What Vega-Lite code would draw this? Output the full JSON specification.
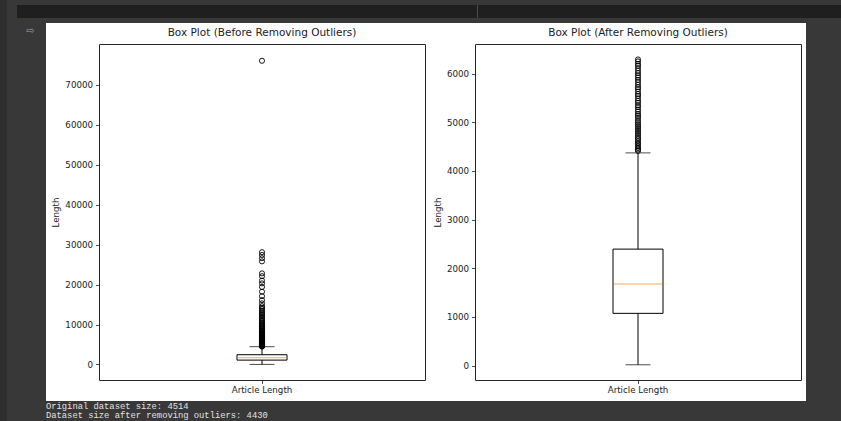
{
  "$schema": "https://vega.github.io/schema/vega-lite/v6.json",
  "background": "#ffffff",
  "padding": 0,
  "data": {"values": [{"cell": "blank"}]},
  "datasets": {
    "before_summary": [{"label": "Article Length", "lower": 15, "q1": 1090, "median": 1700, "q3": 2440, "upper": 4450}],
    "after_summary": [{"label": "Article Length", "lower": 15, "q1": 1072, "median": 1676, "q3": 2392, "upper": 4370}],
    "before_outliers": [
      {"label": "Article Length", "value": 76000}, {"label": "Article Length", "value": 28100}, {"label": "Article Length", "value": 27400},
      {"label": "Article Length", "value": 26600}, {"label": "Article Length", "value": 25800}, {"label": "Article Length", "value": 22800},
      {"label": "Article Length", "value": 22100}, {"label": "Article Length", "value": 21000}, {"label": "Article Length", "value": 20300},
      {"label": "Article Length", "value": 19400}, {"label": "Article Length", "value": 18200}, {"label": "Article Length", "value": 17100},
      {"label": "Article Length", "value": 16100}, {"label": "Article Length", "value": 15300}, {"label": "Article Length", "value": 14600},
      {"label": "Article Length", "value": 14200}, {"label": "Article Length", "value": 13900}, {"label": "Article Length", "value": 13500},
      {"label": "Article Length", "value": 13100}, {"label": "Article Length", "value": 12800}, {"label": "Article Length", "value": 12400},
      {"label": "Article Length", "value": 12100}, {"label": "Article Length", "value": 11700}, {"label": "Article Length", "value": 11400},
      {"label": "Article Length", "value": 11100}, {"label": "Article Length", "value": 10800}, {"label": "Article Length", "value": 10500},
      {"label": "Article Length", "value": 10300}, {"label": "Article Length", "value": 10000}, {"label": "Article Length", "value": 9750},
      {"label": "Article Length", "value": 9500}, {"label": "Article Length", "value": 9300}, {"label": "Article Length", "value": 9050},
      {"label": "Article Length", "value": 8850}, {"label": "Article Length", "value": 8600}, {"label": "Article Length", "value": 8400},
      {"label": "Article Length", "value": 8200}, {"label": "Article Length", "value": 8000}, {"label": "Article Length", "value": 7850},
      {"label": "Article Length", "value": 7650}, {"label": "Article Length", "value": 7450}, {"label": "Article Length", "value": 7300},
      {"label": "Article Length", "value": 7100}, {"label": "Article Length", "value": 6950}, {"label": "Article Length", "value": 6800},
      {"label": "Article Length", "value": 6650}, {"label": "Article Length", "value": 6500}, {"label": "Article Length", "value": 6380},
      {"label": "Article Length", "value": 6250}, {"label": "Article Length", "value": 6120}, {"label": "Article Length", "value": 6000},
      {"label": "Article Length", "value": 5880}, {"label": "Article Length", "value": 5760}, {"label": "Article Length", "value": 5650},
      {"label": "Article Length", "value": 5540}, {"label": "Article Length", "value": 5430}, {"label": "Article Length", "value": 5330},
      {"label": "Article Length", "value": 5230}, {"label": "Article Length", "value": 5140}, {"label": "Article Length", "value": 5050},
      {"label": "Article Length", "value": 4960}, {"label": "Article Length", "value": 4880}, {"label": "Article Length", "value": 4800},
      {"label": "Article Length", "value": 4730}, {"label": "Article Length", "value": 4660}, {"label": "Article Length", "value": 4600},
      {"label": "Article Length", "value": 4540}, {"label": "Article Length", "value": 4490}
    ],
    "after_outliers": [
      {"label": "Article Length", "value": 6290}, {"label": "Article Length", "value": 6250}, {"label": "Article Length", "value": 6200},
      {"label": "Article Length", "value": 6160}, {"label": "Article Length", "value": 6110}, {"label": "Article Length", "value": 6060},
      {"label": "Article Length", "value": 6010}, {"label": "Article Length", "value": 5960}, {"label": "Article Length", "value": 5920},
      {"label": "Article Length", "value": 5870}, {"label": "Article Length", "value": 5820}, {"label": "Article Length", "value": 5770},
      {"label": "Article Length", "value": 5720}, {"label": "Article Length", "value": 5680}, {"label": "Article Length", "value": 5630},
      {"label": "Article Length", "value": 5580}, {"label": "Article Length", "value": 5540}, {"label": "Article Length", "value": 5490},
      {"label": "Article Length", "value": 5440}, {"label": "Article Length", "value": 5400}, {"label": "Article Length", "value": 5350},
      {"label": "Article Length", "value": 5310}, {"label": "Article Length", "value": 5260}, {"label": "Article Length", "value": 5220},
      {"label": "Article Length", "value": 5170}, {"label": "Article Length", "value": 5130}, {"label": "Article Length", "value": 5090},
      {"label": "Article Length", "value": 5040}, {"label": "Article Length", "value": 5000}, {"label": "Article Length", "value": 4960},
      {"label": "Article Length", "value": 4920}, {"label": "Article Length", "value": 4880}, {"label": "Article Length", "value": 4840},
      {"label": "Article Length", "value": 4800}, {"label": "Article Length", "value": 4760}, {"label": "Article Length", "value": 4720},
      {"label": "Article Length", "value": 4680}, {"label": "Article Length", "value": 4650}, {"label": "Article Length", "value": 4610},
      {"label": "Article Length", "value": 4570}, {"label": "Article Length", "value": 4540}, {"label": "Article Length", "value": 4500},
      {"label": "Article Length", "value": 4470}, {"label": "Article Length", "value": 4440}, {"label": "Article Length", "value": 4410}
    ]
  },
  "config": {
    "font": "DejaVu Sans",
    "view": {"stroke": null},
    "concat": {"spacing": 0},
    "axis": {
      "labelFont": "DejaVu Sans", "labelFontSize": 8.7, "labelColor": "#222222",
      "tickColor": "#222222", "tickSize": 3.5, "tickWidth": 0.8,
      "grid": false, "domain": false,
      "titleFont": "DejaVu Sans", "titleFontSize": 8.7, "titleFontWeight": "normal", "titleColor": "#222222",
      "labelPadding": 3, "titlePadding": 4
    },
    "axisX": {"labelPadding": 2},
    "title": {"font": "DejaVu Sans", "fontSize": 10.5, "fontWeight": "normal", "color": "#222222", "offset": 6}
  },
  "spacing": 0,
  "hconcat": [
    {"width": 7, "height": 421, "view": {"fill": "#2e2e2e"}, "mark": {"type": "text", "text": "", "fontSize": 0}, "encoding": {}},
    {
      "spacing": 0,
      "vconcat": [
        {"width": 834, "height": 5, "view": {"fill": "#383838"}, "mark": {"type": "text", "text": "", "fontSize": 0}, "encoding": {}},
        {
          "spacing": 0,
          "hconcat": [
            {"width": 10, "height": 13, "view": {"fill": "#383838"}, "mark": {"type": "text", "text": "", "fontSize": 0}, "encoding": {}},
            {"width": 460, "height": 13, "view": {"fill": "#1f1f1f"}, "mark": {"type": "text", "text": "", "fontSize": 0}, "encoding": {}},
            {"width": 1, "height": 13, "view": {"fill": "#4a4a4a"}, "mark": {"type": "text", "text": "", "fontSize": 0}, "encoding": {}},
            {"width": 363, "height": 13, "view": {"fill": "#1f1f1f"}, "mark": {"type": "text", "text": "", "fontSize": 0}, "encoding": {}}
          ]
        },
        {"width": 834, "height": 5, "view": {"fill": "#383838"}, "mark": {"type": "text", "text": "", "fontSize": 0}, "encoding": {}},
        {
          "spacing": 0,
          "hconcat": [
            {
              "spacing": 0,
              "vconcat": [
                {"width": 39, "height": 16, "view": {"fill": "#383838"}, "mark": {"type": "text", "text": "⇨", "fontSize": 10, "color": "#a0a0a0", "dx": 4, "baseline": "middle", "align": "center"}, "encoding": {}},
                {"width": 39, "height": 362, "view": {"fill": "#383838"}, "mark": {"type": "text", "text": "", "fontSize": 0}, "encoding": {}}
              ]
            },
            {
              "spacing": 0,
              "columns": 5,
              "bounds": "flush",
              "align": "each",
              "concat": [
                {"width": 53, "height": 21, "mark": {"type": "text", "text": "", "fontSize": 0}, "encoding": {}},
                {"width": 326, "height": 21, "mark": {"type": "text", "text": "", "fontSize": 0}, "encoding": {}},
                {"width": 50, "height": 21, "mark": {"type": "text", "text": "", "fontSize": 0}, "encoding": {}},
                {"width": 326, "height": 21, "mark": {"type": "text", "text": "", "fontSize": 0}, "encoding": {}},
                {"width": 5, "height": 21, "mark": {"type": "text", "text": "", "fontSize": 0}, "encoding": {}},
                {"width": 53, "height": 336, "mark": {"type": "text", "text": "", "fontSize": 0}, "encoding": {}},
                {
                  "width": 326, "height": 336,
                  "title": "Box Plot (Before Removing Outliers)",
                  "view": {"stroke": "#262626", "strokeWidth": 1},
                  "encoding": {
                    "x": {"field": "label", "type": "nominal", "scale": {"domain": ["Article Length"], "paddingInner": 0, "paddingOuter": 0}, "axis": {"title": null, "labelAngle": 0}}
                  },
                  "layer": [
                    {
                      "data": {"name": "before_summary"},
                      "mark": {"type": "rule", "color": "#000000", "strokeWidth": 1},
                      "encoding": {
                        "y": {"field": "lower", "type": "quantitative", "title": "Length", "scale": {"domain": [-3885, 80200], "nice": false, "zero": false}, "axis": {"values": [0, 10000, 20000, 30000, 40000, 50000, 60000, 70000], "format": "d"}},
                        "y2": {"field": "q1"}
                      }
                    },
                    {
                      "data": {"name": "before_summary"},
                      "mark": {"type": "rule", "color": "#000000", "strokeWidth": 1},
                      "encoding": {
                        "y": {"field": "q3", "type": "quantitative", "title": "Length", "scale": {"domain": [-3885, 80200], "nice": false, "zero": false}, "axis": {"values": [0, 10000, 20000, 30000, 40000, 50000, 60000, 70000], "format": "d"}},
                        "y2": {"field": "upper"}
                      }
                    },
                    {
                      "data": {"name": "before_summary"},
                      "mark": {"type": "bar", "size": 50, "fill": "#ffffff", "stroke": "#000000", "strokeWidth": 1},
                      "encoding": {
                        "y": {"field": "q1", "type": "quantitative", "title": "Length", "scale": {"domain": [-3885, 80200], "nice": false, "zero": false}, "axis": {"values": [0, 10000, 20000, 30000, 40000, 50000, 60000, 70000], "format": "d"}},
                        "y2": {"field": "q3"}
                      }
                    },
                    {
                      "data": {"name": "before_summary"},
                      "mark": {"type": "tick", "size": 25, "thickness": 1, "color": "#000000"},
                      "encoding": {
                        "y": {"field": "lower", "type": "quantitative", "title": "Length", "scale": {"domain": [-3885, 80200], "nice": false, "zero": false}, "axis": {"values": [0, 10000, 20000, 30000, 40000, 50000, 60000, 70000], "format": "d"}}
                      }
                    },
                    {
                      "data": {"name": "before_summary"},
                      "mark": {"type": "tick", "size": 25, "thickness": 1, "color": "#000000"},
                      "encoding": {
                        "y": {"field": "upper", "type": "quantitative", "title": "Length", "scale": {"domain": [-3885, 80200], "nice": false, "zero": false}, "axis": {"values": [0, 10000, 20000, 30000, 40000, 50000, 60000, 70000], "format": "d"}}
                      }
                    },
                    {
                      "data": {"name": "before_summary"},
                      "mark": {"type": "tick", "size": 50, "thickness": 1, "color": "#ff7f0e"},
                      "encoding": {
                        "y": {"field": "median", "type": "quantitative", "title": "Length", "scale": {"domain": [-3885, 80200], "nice": false, "zero": false}, "axis": {"values": [0, 10000, 20000, 30000, 40000, 50000, 60000, 70000], "format": "d"}}
                      }
                    },
                    {
                      "data": {"name": "before_outliers"},
                      "mark": {"type": "point", "shape": "circle", "filled": false, "size": 26, "stroke": "#000000", "strokeWidth": 0.9, "opacity": 1},
                      "encoding": {
                        "y": {"field": "value", "type": "quantitative", "title": "Length", "scale": {"domain": [-3885, 80200], "nice": false, "zero": false}, "axis": {"values": [0, 10000, 20000, 30000, 40000, 50000, 60000, 70000], "format": "d"}}
                      }
                    }
                  ]
                },
                {"width": 50, "height": 336, "mark": {"type": "text", "text": "", "fontSize": 0}, "encoding": {}},
                {
                  "width": 326, "height": 336,
                  "title": "Box Plot (After Removing Outliers)",
                  "view": {"stroke": "#262626", "strokeWidth": 1},
                  "encoding": {
                    "x": {"field": "label", "type": "nominal", "scale": {"domain": ["Article Length"], "paddingInner": 0, "paddingOuter": 0}, "axis": {"title": null, "labelAngle": 0}}
                  },
                  "layer": [
                    {
                      "data": {"name": "after_summary"},
                      "mark": {"type": "rule", "color": "#000000", "strokeWidth": 1},
                      "encoding": {
                        "y": {"field": "lower", "type": "quantitative", "title": "Length", "scale": {"domain": [-298, 6608], "nice": false, "zero": false}, "axis": {"values": [0, 1000, 2000, 3000, 4000, 5000, 6000], "format": "d"}},
                        "y2": {"field": "q1"}
                      }
                    },
                    {
                      "data": {"name": "after_summary"},
                      "mark": {"type": "rule", "color": "#000000", "strokeWidth": 1},
                      "encoding": {
                        "y": {"field": "q3", "type": "quantitative", "title": "Length", "scale": {"domain": [-298, 6608], "nice": false, "zero": false}, "axis": {"values": [0, 1000, 2000, 3000, 4000, 5000, 6000], "format": "d"}},
                        "y2": {"field": "upper"}
                      }
                    },
                    {
                      "data": {"name": "after_summary"},
                      "mark": {"type": "bar", "size": 50, "fill": "#ffffff", "stroke": "#000000", "strokeWidth": 1},
                      "encoding": {
                        "y": {"field": "q1", "type": "quantitative", "title": "Length", "scale": {"domain": [-298, 6608], "nice": false, "zero": false}, "axis": {"values": [0, 1000, 2000, 3000, 4000, 5000, 6000], "format": "d"}},
                        "y2": {"field": "q3"}
                      }
                    },
                    {
                      "data": {"name": "after_summary"},
                      "mark": {"type": "tick", "size": 25, "thickness": 1, "color": "#000000"},
                      "encoding": {
                        "y": {"field": "lower", "type": "quantitative", "title": "Length", "scale": {"domain": [-298, 6608], "nice": false, "zero": false}, "axis": {"values": [0, 1000, 2000, 3000, 4000, 5000, 6000], "format": "d"}}
                      }
                    },
                    {
                      "data": {"name": "after_summary"},
                      "mark": {"type": "tick", "size": 25, "thickness": 1, "color": "#000000"},
                      "encoding": {
                        "y": {"field": "upper", "type": "quantitative", "title": "Length", "scale": {"domain": [-298, 6608], "nice": false, "zero": false}, "axis": {"values": [0, 1000, 2000, 3000, 4000, 5000, 6000], "format": "d"}}
                      }
                    },
                    {
                      "data": {"name": "after_summary"},
                      "mark": {"type": "tick", "size": 50, "thickness": 1, "color": "#ff7f0e"},
                      "encoding": {
                        "y": {"field": "median", "type": "quantitative", "title": "Length", "scale": {"domain": [-298, 6608], "nice": false, "zero": false}, "axis": {"values": [0, 1000, 2000, 3000, 4000, 5000, 6000], "format": "d"}}
                      }
                    },
                    {
                      "data": {"name": "after_outliers"},
                      "mark": {"type": "point", "shape": "circle", "filled": false, "size": 26, "stroke": "#000000", "strokeWidth": 0.9, "opacity": 1},
                      "encoding": {
                        "y": {"field": "value", "type": "quantitative", "title": "Length", "scale": {"domain": [-298, 6608], "nice": false, "zero": false}, "axis": {"values": [0, 1000, 2000, 3000, 4000, 5000, 6000], "format": "d"}}
                      }
                    }
                  ]
                },
                {"width": 5, "height": 336, "mark": {"type": "text", "text": "", "fontSize": 0}, "encoding": {}},
                {"width": 53, "height": 21, "mark": {"type": "text", "text": "", "fontSize": 0}, "encoding": {}},
                {"width": 326, "height": 21, "mark": {"type": "text", "text": "", "fontSize": 0}, "encoding": {}},
                {"width": 50, "height": 21, "mark": {"type": "text", "text": "", "fontSize": 0}, "encoding": {}},
                {"width": 326, "height": 21, "mark": {"type": "text", "text": "", "fontSize": 0}, "encoding": {}},
                {"width": 5, "height": 21, "mark": {"type": "text", "text": "", "fontSize": 0}, "encoding": {}}
              ]
            },
            {"width": 35, "height": 378, "view": {"fill": "#383838"}, "mark": {"type": "text", "text": "", "fontSize": 0}, "encoding": {}}
          ]
        },
        {
          "width": 834, "height": 20,
          "view": {"fill": "#383838"},
          "data": {"values": [{"message": "Original dataset size: 4514\nDataset size after removing outliers: 4430"}]},
          "mark": {"type": "text", "font": "Liberation Mono", "fontSize": 8.8, "color": "#e2e2e2", "align": "left", "baseline": "top", "lineBreak": "\n", "lineHeight": 9.5},
          "encoding": {
            "text": {"field": "message", "type": "nominal"},
            "x": {"value": 39},
            "y": {"value": 0.5}
          }
        }
      ]
    }
  ]
}
